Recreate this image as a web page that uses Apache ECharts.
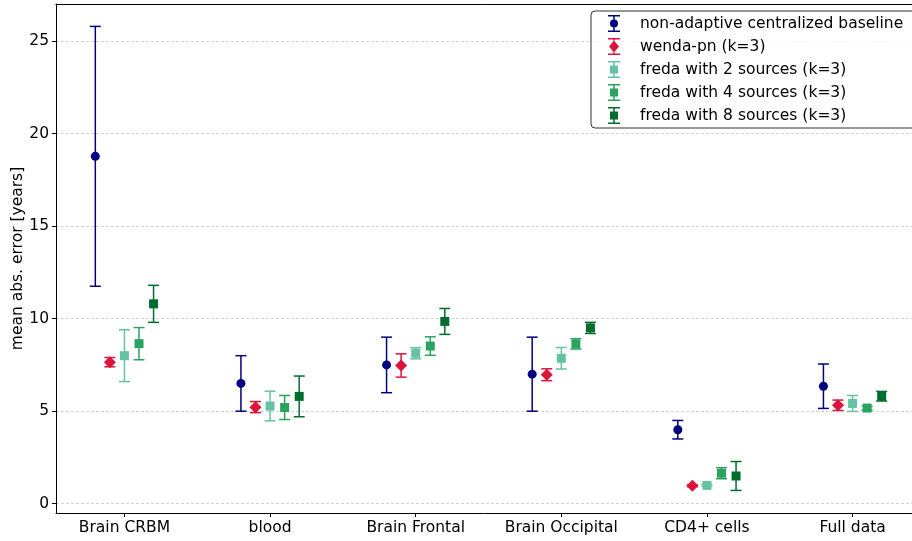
<!DOCTYPE html>
<html>
<head>
<meta charset="utf-8">
<script src="https://cdn.jsdelivr.net/npm/echarts@6/dist/echarts.min.js"></script>
<style>html,body{margin:0;padding:0;background:#fff;}#c{width:912px;height:541px;}</style>
</head>
<body>
<div id="c"></div>
<script>
const categories = ['Brain CRBM', 'blood', 'Brain Frontal', 'Brain Occipital', 'CD4+ cells', 'Full data'];
const yTicks = [0, 5, 10, 15, 20, 25];

const seriesNames = [
  'non-adaptive centralized baseline',
  'wenda-pn (k=3)',
  'freda with 2 sources (k=3)',
  'freda with 4 sources (k=3)',
  'freda with 8 sources (k=3)'
];
const baselineMean = [18.77, 6.5, 7.5, 7.0, 4.0, 6.35];
const baselineErr  = [7.02, 1.5, 1.5, 2.0, 0.5, 1.2];
const wendaMean    = [7.65, 5.22, 7.47, 6.97, 0.97, 5.32];
const wendaErr     = [0.25, 0.3, 0.63, 0.32, 0.05, 0.28];
const freda2Mean   = [8.0, 5.28, 8.13, 7.86, 0.99, 5.42];
const freda2Err    = [1.4, 0.8, 0.3, 0.58, 0.05, 0.43];
const freda4Mean   = [8.65, 5.2, 8.52, 8.64, 1.65, 5.17];
const freda4Err    = [0.87, 0.65, 0.5, 0.28, 0.3, 0.1];
const freda8Mean   = [10.8, 5.8, 9.85, 9.5, 1.5, 5.81];
const freda8Err    = [1.0, 1.1, 0.7, 0.3, 0.78, 0.26];

const means = [baselineMean, wendaMean, freda2Mean, freda4Mean, freda8Mean];
const errs = [baselineErr, wendaErr, freda2Err, freda4Err, freda8Err];
const offsets = [-0.2, -0.1, 0, 0.1, 0.2];
const colors = ['#000080', '#dc143c', '#66c2a4', '#2ca25f', '#006d2c'];
const markers = ['circle', 'diamond', 'rect', 'rect', 'rect'];
const markerSizes = [9, 12, 9, 9, 9];

function icon(kind) {
  const caps = 'M0 0H12V1.5H0Z M0 15.5H12V17H0Z ';
  if (kind === 'circle') {
    return 'path://' + caps + 'M5.25 1.5H6.75V4.5H5.25Z M6 4.5A4 4 0 1 1 6 12.5A4 4 0 1 1 6 4.5Z M5.25 12.5H6.75V15.5H5.25Z';
  } else if (kind === 'diamond') {
    return 'path://' + caps + 'M5.25 1.5H6.75V2.5H5.25Z M6 2.5L11 8.5L6 14.5L1 8.5Z M5.25 14.5H6.75V15.5H5.25Z';
  }
  return 'path://' + caps + 'M5.25 1.5H6.75V4.5H5.25Z M2 4.5H10V12.5H2Z M5.25 12.5H6.75V15.5H5.25Z';
}

const series = [];
means.forEach((m, s) => {
  const data = m.map((v, i) => [i + offsets[s], v, errs[s][i]]);
  series.push({
    type: 'custom',
    name: 'eb' + s,
    z: 3,
    data: data,
    encode: { x: 0, y: 1 },
    renderItem: function (params, api) {
      const x = api.value(0), y = api.value(1), e = api.value(2);
      const hi = api.coord([x, y + e]);
      const lo = api.coord([x, y - e]);
      const st = { stroke: colors[s], lineWidth: 1.5, fill: null };
      return {
        type: 'group',
        children: [
          { type: 'line', shape: { x1: hi[0], y1: hi[1], x2: lo[0], y2: lo[1] }, style: st },
          { type: 'line', shape: { x1: hi[0] - 5.5, y1: hi[1], x2: hi[0] + 5.5, y2: hi[1] }, style: st },
          { type: 'line', shape: { x1: lo[0] - 5.5, y1: lo[1], x2: lo[0] + 5.5, y2: lo[1] }, style: st }
        ]
      };
    }
  });
  series.push({
    type: 'scatter',
    name: seriesNames[s],
    z: 4,
    symbol: markers[s],
    symbolSize: markerSizes[s],
    itemStyle: { color: colors[s], opacity: 1 },
    data: m.map((v, i) => [i + offsets[s], v])
  });
});

const chart = echarts.init(document.getElementById('c'), null, { renderer: 'canvas' });
chart.setOption({
  animation: false,
  backgroundColor: '#ffffff',
  textStyle: { fontFamily: 'DejaVu Sans' },
  grid: { left: 56, top: 4, width: 865, bottom: 28, containLabel: false, outerBoundsMode: 'none' },
  legend: {
    left: 591, top: 11,
    orient: 'vertical',
    data: seriesNames.map((n, s) => ({ name: n, icon: icon(markers[s]), itemStyle: { color: colors[s] } })),
    itemWidth: 12, itemHeight: 17,
    itemGap: 6,
    padding: [4, 30, 4, 17],
    backgroundColor: 'rgba(255,255,255,0.85)',
    borderColor: '#333',
    borderWidth: 1,
    borderRadius: 4,
    selectedMode: false,
    textStyle: { fontSize: 15.5, color: '#000', fontFamily: 'DejaVu Sans', padding: [0, 0, 0, 15] }
  },
  xAxis: [{
    type: 'value',
    min: -0.47, max: 5.47,
    splitLine: { show: false },
    axisLine: { show: true, onZero: false, lineStyle: { color: '#000', width: 1 } },
    axisTick: { show: true, customValues: [0, 1, 2, 3, 4, 5], length: 4, lineStyle: { color: '#000' } },
    axisLabel: {
      customValues: [0, 1, 2, 3, 4, 5],
      formatter: v => categories[Math.round(v)],
      fontSize: 15.5, color: '#000', margin: 7, fontFamily: 'DejaVu Sans'
    }
  }, {
    type: 'value', position: 'top',
    min: -0.47, max: 5.47,
    splitLine: { show: false },
    axisLine: { show: true, onZero: false, lineStyle: { color: '#000', width: 1 } },
    axisTick: { show: false }, axisLabel: { show: false }
  }],
  yAxis: {
    type: 'value',
    min: -0.5, max: 27,
    name: 'mean abs. error [years]',
    nameLocation: 'middle',
    nameGap: 30,
    nameMoveOverlap: false,
    nameTextStyle: { fontSize: 15.5, color: '#000', fontFamily: 'DejaVu Sans' },
    axisLine: { show: true, onZero: false, lineStyle: { color: '#000', width: 1 } },
    axisTick: { show: true, customValues: yTicks, length: 4, lineStyle: { color: '#000' } },
    axisLabel: { customValues: yTicks, fontSize: 15.5, color: '#000', margin: 7, fontFamily: 'DejaVu Sans' },
    splitLine: { show: true, lineStyle: { color: '#c8c8c8', width: 0.8, type: [3, 2] } }
  },
  series: series
});
</script>
</body>
</html>
